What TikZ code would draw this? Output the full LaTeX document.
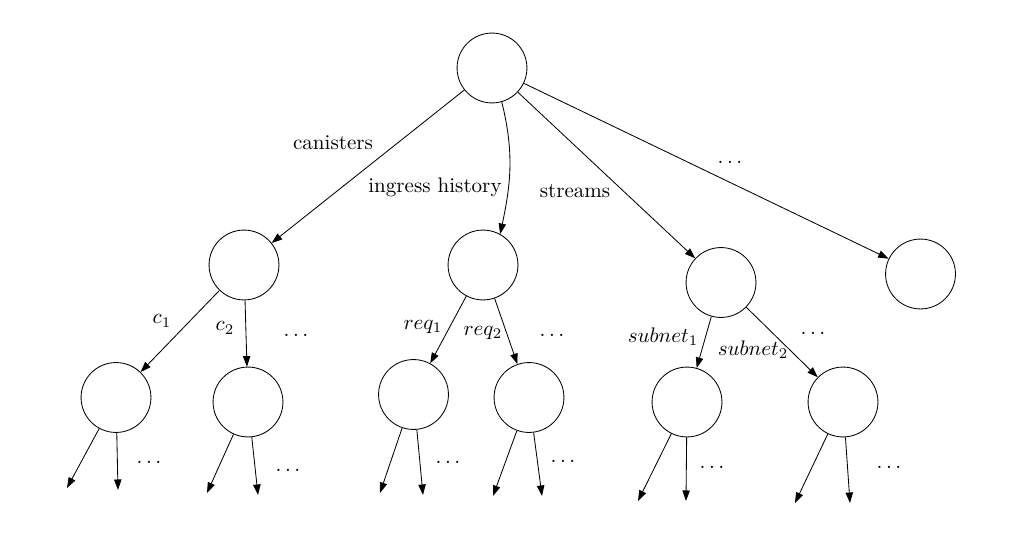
\documentclass[tikz,border=0pt]{standalone}
\usetikzlibrary{arrows.meta}
\begin{document}
\begin{tikzpicture}[x=0.475pt,y=-0.475pt,
  vert/.style={draw,circle,minimum size=33.2pt,inner sep=0pt},
  edge/.style={-{Triangle[length=5pt,width=3.5pt]},line width=0.4pt},
  lbl/.style={inner sep=0pt}]
\useasboundingbox (0,0) rectangle (1022,542);
% nodes
\node[vert] (r) at (492,68) {};
\node[vert] (a) at (244,265) {};
\node[vert] (b) at (483,265) {};
\node[vert] (c) at (721,282.5) {};
\node[vert] (d) at (920.5,274) {};
\node[vert] (a1) at (116,397.5) {};
\node[vert] (a2) at (248,402) {};
\node[vert] (b1) at (413.5,394.5) {};
\node[vert] (b2) at (529,397.5) {};
\node[vert] (c1) at (687,402) {};
\node[vert] (c2) at (843,402) {};
% free ends
\coordinate (a1l) at (67,488);
\coordinate (a1r) at (118,490);
\coordinate (a2l) at (207,493);
\coordinate (a2r) at (258,495);
\coordinate (b1l) at (380,493);
\coordinate (b1r) at (423,495);
\coordinate (b2l) at (493,496);
\coordinate (b2r) at (542,496);
\coordinate (c1l) at (638,501);
\coordinate (c1r) at (686,501);
\coordinate (c2l) at (795,503);
\coordinate (c2r) at (850,503);
% edges
\draw[edge] (r) -- (a);
\draw[edge] (r.-74) to[out=-76,in=78] (b.61);
\draw[edge] (r) -- (c);
\draw[edge] (r) -- (d);
\draw[edge] (a) -- (a1);
\draw[edge] (a) -- (a2);
\draw[edge] (b) -- (b1);
\draw[edge] (b) -- (b2);
\draw[edge] (c) -- (c1);
\draw[edge] (c) -- (c2);
\foreach \n in {a1,a2,b1,b2,c1,c2}{
  \draw[edge] (\n) -- (\n l);
  \draw[edge] (\n) -- (\n r);
}
% labels
\node[lbl] (lcan) at (333,143) {canisters};
\node[lbl] (ling) at (435,187) {ingress history};
\node[lbl] (lstr) at (575,191) {streams};
\node[lbl] (ldot) at (730,162) {$\dots$};
\node[lbl] (lc1) at (162,321) {$c_1$};
\node[lbl] (lc2) at (225,328) {$c_2$};
\node[lbl] (lcd) at (296,335) {$\dots$};
\node[lbl] (lr1) at (423,327) {$req_1$};
\node[lbl] (lr2) at (483,333) {$req_2$};
\node[lbl] (lrd) at (552,335) {$\dots$};
\node[lbl] (ls1) at (663,337) {$subnet_1$};
\node[lbl] (ls2) at (753,350) {$subnet_2$};
\node[lbl] (lsd) at (813,333) {$\dots$};
\node[lbl] (d1) at (149,462) {$\dots$};
\node[lbl] (d2) at (288,470) {$\dots$};
\node[lbl] (d3) at (448,462) {$\dots$};
\node[lbl] (d4) at (563,461) {$\dots$};
\node[lbl] (d5) at (712,467) {$\dots$};
\node[lbl] (d6) at (889,467) {$\dots$};
\end{tikzpicture}
\end{document}
